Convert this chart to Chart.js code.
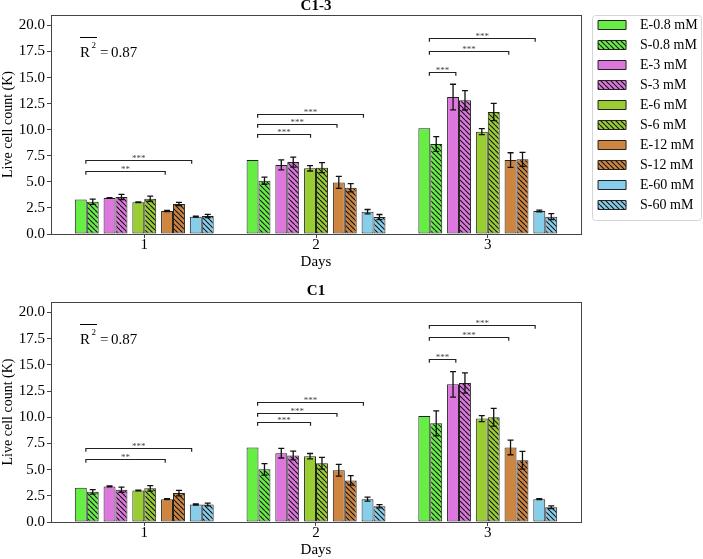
<!DOCTYPE html>
<html><head><meta charset="utf-8">
<script src="https://cdn.jsdelivr.net/npm/chart.js@4/dist/chart.umd.min.js"></script>
<style>
html,body{margin:0;padding:0;background:#fff;width:703px;height:559px;overflow:hidden}
#c1{position:absolute;left:0;top:0}
#c2{position:absolute;left:0;top:271px}
</style></head><body>
<canvas id="c1" width="703" height="271"></canvas>
<canvas id="c2" width="703" height="288"></canvas>
<script>
// ---------- data ----------
const days = ['1', '2', '3'];
const dayValues = [1, 2, 3];
const seriesLabels = ['E-0.8 mM','S-0.8 mM','E-3 mM','S-3 mM','E-6 mM','S-6 mM','E-12 mM','S-12 mM','E-60 mM','S-60 mM'];
const pairColors = ['#66ee44', '#dd77dd', '#9acd32', '#cd853f', '#87ceeb'];

// Chart "C1-3": means per series for days 1,2,3
const meansC13 = [
  [3.30, 7.09, 10.13],
  [3.10, 5.11, 8.63],
  [3.45, 6.62, 13.13],
  [3.55, 6.90, 12.82],
  [3.04, 6.30, 9.81],
  [3.39, 6.36, 11.70],
  [2.20, 4.95, 7.09],
  [2.88, 4.44, 7.16],
  [1.66, 2.14, 2.21],
  [1.73, 1.62, 1.66]
];
const errsC13 = [
  [0.00, 0.00, 0.00],
  [0.25, 0.34, 0.70],
  [0.04, 0.48, 1.23],
  [0.25, 0.48, 0.93],
  [0.04, 0.26, 0.29],
  [0.25, 0.48, 0.83],
  [0.06, 0.58, 0.70],
  [0.15, 0.40, 0.67],
  [0.05, 0.21, 0.08],
  [0.15, 0.25, 0.29]
];
// Chart "C1"
const meansC1 = [
  [3.27, 7.12, 10.13],
  [2.88, 5.03, 9.42],
  [3.40, 6.57, 13.14],
  [3.08, 6.35, 13.27],
  [3.01, 6.28, 9.87],
  [3.21, 5.61, 10.00],
  [2.18, 4.94, 7.12],
  [2.76, 3.97, 5.90],
  [1.67, 2.18, 2.18],
  [1.67, 1.50, 1.41]
];
const errsC1 = [
  [0.00, 0.00, 0.00],
  [0.21, 0.55, 1.19],
  [0.04, 0.46, 1.22],
  [0.24, 0.42, 0.96],
  [0.04, 0.26, 0.29],
  [0.27, 0.56, 0.85],
  [0.05, 0.56, 0.70],
  [0.26, 0.45, 0.85],
  [0.05, 0.19, 0.05],
  [0.13, 0.16, 0.13]
];
const yTicks = [0, 2.5, 5, 7.5, 10, 12.5, 15, 17.5, 20];

// significance brackets
const sigDay   = [1, 1, 2, 2, 2, 3, 3, 3];
const sigFrom  = [0, 0, 0, 0, 0, 0, 0, 0];
const sigTo    = [6, 8, 4, 6, 8, 2, 6, 8];
const sigLabel = ['**', '***', '***', '***', '***', '***', '***', '***'];
const sigLevelC13 = [6.07, 7.07, 9.56, 10.58, 11.53, 15.56, 17.55, 18.8];
const sigLevelC1  = [6.00, 7.06, 9.52, 10.45, 11.44, 15.55, 17.63, 18.8];
const r2Text = '0.87';

// ---------- helpers ----------
const FAM = "'Liberation Serif', 'Times New Roman', 'DejaVu Serif', serif";
function hatch(color) {
  const t = 5;
  const c = document.createElement('canvas');
  c.width = t; c.height = t;
  const g = c.getContext('2d');
  g.fillStyle = color; g.fillRect(0, 0, t, t);
  g.strokeStyle = '#111'; g.lineWidth = 1.1;
  for (const k of [-t, 0, t]) { g.beginPath(); g.moveTo(k, 0); g.lineTo(k + t, t); g.stroke(); }
  return g.createPattern(c, 'repeat');
}

const pairShift = {
  id: 'pairShift',
  afterDatasetsUpdate(chart) {
    const a = chart.getDatasetMeta(0).data[0], b = chart.getDatasetMeta(1).data[0];
    if (!a || !b) return;
    const slot = b.x - a.x;
    chart.data.datasets.forEach((ds, i) => {
      chart.getDatasetMeta(i).data.forEach(el => {
        const sh = (slot - el.width) / 2;
        el.x += (i % 2 === 0 ? sh : -sh);
      });
    });
  }
};

const errorBars = {
  id: 'errorBars',
  afterDatasetsDraw(chart) {
    const ctx = chart.ctx, ys = chart.scales.y;
    ctx.save();
    ctx.strokeStyle = '#111'; ctx.lineWidth = 1.3;
    chart.data.datasets.forEach((ds, i) => {
      chart.getDatasetMeta(i).data.forEach((el, j) => {
        const e = ds.err[j]; if (!e) return;
        const v = ds.data[j].y;
        const yt = ys.getPixelForValue(v + e), yb = ys.getPixelForValue(v - e);
        ctx.beginPath();
        ctx.moveTo(el.x, yt); ctx.lineTo(el.x, yb);
        ctx.moveTo(el.x - 3, yt); ctx.lineTo(el.x + 3, yt);
        ctx.moveTo(el.x - 3, yb); ctx.lineTo(el.x + 3, yb);
        ctx.stroke();
      });
    });
    ctx.restore();
  }
};

const extras = {
  id: 'extras',
  afterDraw(chart, args, opts) {
    const ctx = chart.ctx, ca = chart.chartArea, xs = chart.scales.x, ys = chart.scales.y;
    ctx.save();
    // axes frame
    ctx.strokeStyle = '#444'; ctx.lineWidth = 1;
    ctx.strokeRect(ca.left + 0.5, ca.top + 0.5, ca.right - ca.left, ca.bottom - ca.top);
    // significance brackets
    ctx.strokeStyle = '#222'; ctx.lineWidth = 1.2;
    ctx.fillStyle = '#444'; ctx.font = '9px ' + FAM; ctx.textAlign = 'center'; ctx.textBaseline = 'alphabetic';
    sigDay.forEach((d, k) => {
      const di = dayValues.indexOf(d);
      const cx = xs.getPixelForValue(d);
      const ef = chart.getDatasetMeta(sigFrom[k]).data[di];
      const et = chart.getDatasetMeta(sigTo[k]).data[di];
      const x1 = cx + 0.92 * (ef.x - cx), x2 = cx + 0.92 * (et.x - cx);
      const y = Math.round(ys.getPixelForValue(opts.levels[k])) + 0.5;
      ctx.beginPath();
      ctx.moveTo(x1, y + 3.3); ctx.lineTo(x1, y); ctx.lineTo(x2, y); ctx.lineTo(x2, y + 3.3);
      ctx.stroke();
      ctx.fillText(sigLabel[k], (x1 + x2) / 2, y + 0.5);
    });
    // R-bar squared annotation
    const x0 = ca.left + 29, base = ca.top + 42;
    ctx.fillStyle = '#000'; ctx.textAlign = 'left';
    ctx.font = '15px ' + FAM;
    ctx.fillText('R', x0, base);
    const rw = ctx.measureText('R').width;
    ctx.font = '9px ' + FAM;
    ctx.fillText('2', x0 + rw + 1.5, base - 9);
    ctx.strokeStyle = '#000'; ctx.lineWidth = 1;
    ctx.beginPath(); ctx.moveTo(x0, ca.top + 22.5); ctx.lineTo(x0 + 17, ca.top + 22.5); ctx.stroke();
    ctx.font = '15px ' + FAM;
    ctx.fillText('=', x0 + 20, base);
    ctx.fillText(r2Text, x0 + 31, base);
    // legend frame
    if (chart.legend && chart.legend.options.display && chart.legend.legendHitBoxes.length) {
      const hb = chart.legend.legendHitBoxes;
      const l = chart.legend.left, t = hb[0].top - 3, b = hb[hb.length - 1].top + hb[hb.length - 1].height + 8;
      const r = 702;
      ctx.strokeStyle = '#d6d6d6'; ctx.lineWidth = 1;
      ctx.beginPath();
      ctx.roundRect(l + 0.5, t + 0.5, r - l - 1, b - t, 3);
      ctx.stroke();
    }
    ctx.restore();
  }
};

function makeChart(id, titleText, means, errs, levels, showLegend, titlePad) {
  const datasets = seriesLabels.map((lab, i) => ({
    label: lab,
    data: dayValues.map((d, j) => ({ x: d, y: means[i][j] })),
    err: errs[i],
    backgroundColor: i % 2 ? hatch(pairColors[i >> 1]) : pairColors[i >> 1],
    borderColor: '#222',
    borderWidth: 1,
    borderSkipped: false,
    categoryPercentage: 0.837,
    barPercentage: 0.83
  }));
  const scales = {
    x: {
      type: 'linear', min: 0.457, max: 3.543, offset: false,
      grid: { drawOnChartArea: false, drawTicks: true, tickLength: 4, color: '#444', offset: false },
      border: { display: false },
      ticks: { stepSize: 1, includeBounds: false, padding: 0, color: '#000', font: { family: FAM, size: 15, lineHeight: 1 },
        callback: v => days[dayValues.indexOf(v)] ?? '' },
      title: { display: true, text: 'Days', color: '#000', font: { family: FAM, size: 15, lineHeight: 1.2 }, padding: { top: 0, bottom: 0 } },
      afterFit: s => { s.height = 37; }
    },
    y: {
      min: 0, max: 21,
      grid: { drawOnChartArea: false, tickLength: 4, color: '#444' },
      border: { display: false },
      afterBuildTicks: s => { s.ticks = yTicks.map(v => ({ value: v })); },
      ticks: { padding: 2, color: '#000', font: { family: FAM, size: 15 }, callback: v => Number(v).toFixed(1) },
      title: { display: true, text: 'Live cell count (K)', color: '#000', font: { family: FAM, size: 14, lineHeight: 1.2 }, padding: { top: 0, bottom: 0 } },
      afterFit: s => { s.width = 51; }
    }
  };
  if (showLegend) {
    scales.sp = {
      type: 'linear', position: 'right', display: true,
      grid: { display: false, drawTicks: false }, border: { display: false },
      ticks: { display: false }, title: { display: false },
      afterFit: s => { s.width = 11; }
    };
  }
  const defaultLabels = Chart.defaults.plugins.legend.labels.generateLabels;
  return new Chart(document.getElementById(id), {
    type: 'bar',
    data: { datasets },
    options: {
      responsive: false, animation: false, devicePixelRatio: 1,
      layout: { padding: { left: 0, top: 0, bottom: 0, right: showLegend ? -4.6 : 122 } },
      scales,
      plugins: {
        title: { display: true, fullSize: false, text: titleText, color: '#000',
          font: { family: FAM, size: 15, weight: 'bold', lineHeight: 0.8 }, padding: titlePad },
        legend: {
          display: showLegend, position: 'right', align: 'start', fullSize: true,
          title: { display: true, text: '', font: { size: 12, lineHeight: 1 }, padding: 0 },
          labels: { boxWidth: 28, boxHeight: 9, padding: 6, color: '#000', font: { family: FAM, size: 14 },
            generateLabels: ch => defaultLabels(ch).map(it => Object.assign(it, { text: '\u2002' + it.text })) }
        },
        tooltip: { enabled: false },
        extras: { levels }
      }
    },
    plugins: [pairShift, errorBars, extras]
  });
}

makeChart('c1', 'C1-3', meansC13, errsC13, sigLevelC13, true, { top: 0, bottom: 3 });
makeChart('c2', 'C1', meansC1, errsC1, sigLevelC1, false, { top: 14, bottom: 5 });
</script>
</body></html>
